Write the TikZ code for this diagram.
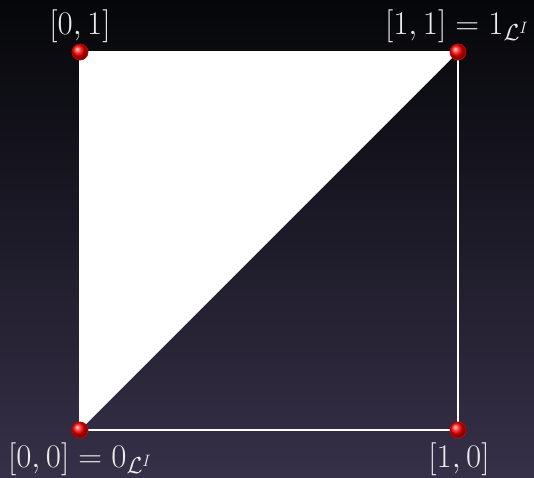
\RequirePackage{fix-cm}
\documentclass[tikz,border=0pt]{standalone}
\usetikzlibrary{shadings}
\definecolor{bgtop}{HTML}{050609}
\definecolor{bgbot}{HTML}{363048}
\definecolor{labelc}{HTML}{ECECEC}
\tikzset{
  ballnode/.style={circle,minimum size=16pt,inner sep=0pt,shading=ball,ball color=red,draw=red!80!black,line width=0.8pt},
  lbl/.style={text=labelc,inner sep=0pt,anchor=base,font=\fontsize{33}{38}\selectfont},
  edge/.style={draw=white,line width=2pt}
}
\begin{document}
\begin{tikzpicture}[x=1pt,y=-1pt]
\useasboundingbox (0,0) rectangle (534,477);
\shade[top color=bgtop,bottom color=bgbot] (0,0) rectangle (534,477);
\coordinate (A) at (80,52);
\coordinate (B) at (458,52);
\coordinate (C) at (80,430);
\coordinate (D) at (458,430);
\fill[white] (A) -- (B) -- (C) -- cycle;
\draw[edge] (A) -- (B) -- (D) -- (C) -- cycle;
\node[ballnode] (nA) at (A) {};
\node[ballnode] (nB) at (B) {};
\node[ballnode] (nC) at (C) {};
\node[ballnode] (nD) at (D) {};
\node[lbl] (lA) at (80,34) {$[0,1]$};
\node[lbl] (lB) at (457,34) {$[1,1]=1_{\mathcal{L}^I}$};
\node[lbl] (lC) at (80,467) {$[0,0]=0_{\mathcal{L}^I}$};
\node[lbl] (lD) at (459,467) {$[1,0]$};
\end{tikzpicture}
\end{document}
